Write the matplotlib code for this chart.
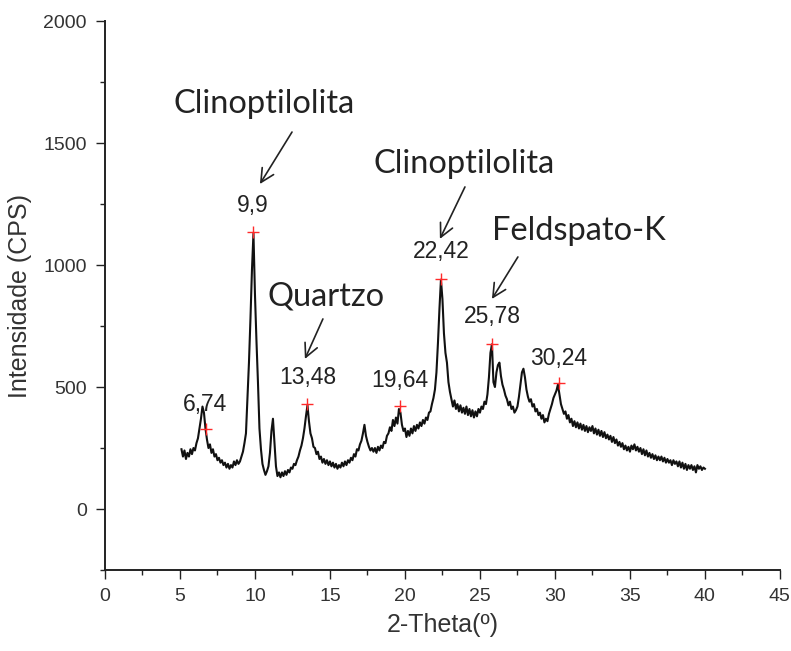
import matplotlib.pyplot as plt
import numpy as np

plt.rcParams['font.family'] = ['Liberation Sans', 'DejaVu Sans']

# 2-theta scan, one reading every 0.1 degree from 5.1 to 40.0
theta_start = 5.1
theta_step = 0.1
cps = [
    245, 215, 240, 205, 230, 215, 245, 225, 250,
    240, 270, 290, 330, 370, 420, 395, 330, 285, 250,
    265, 230, 245, 215, 225, 200, 210, 190, 200, 180,
    190, 170, 185, 165, 180, 170, 195, 180, 200, 185,
    195, 215, 235, 270, 310, 450, 600, 780, 980, 1130,
    880, 690, 520, 330, 245, 185, 160, 140, 155, 175,
    230, 320, 370, 270, 175, 135, 150, 130, 150, 135,
    155, 140, 160, 150, 170, 165, 185, 180, 200, 215,
    240, 260, 290, 330, 380, 425, 360, 310, 290, 255,
    250, 225, 235, 205, 215, 190, 205, 185, 200, 180,
    195, 175, 190, 170, 185, 165, 180, 170, 190, 175,
    195, 180, 200, 190, 210, 200, 225, 215, 245, 240,
    265, 280, 310, 345, 300, 275, 255, 240, 250, 235,
    250, 230, 255, 240, 260, 250, 275, 270, 300, 310,
    335, 320, 365, 340, 375, 350, 410, 395, 345, 320,
    330, 295, 320, 300, 330, 310, 340, 320, 345, 330,
    355, 340, 365, 350, 375, 365, 395, 400, 430, 455,
    490, 560, 680, 820, 940, 860, 720, 640, 600, 520,
    480, 450, 420, 445, 410, 430, 400, 425, 395, 415,
    390, 420, 385, 410, 380, 405, 375, 400, 380, 410,
    395, 420, 410, 440, 430, 470, 540, 640, 675, 520,
    500, 560, 590, 600, 545, 510, 490, 465, 450, 425,
    440, 410, 420, 395, 405, 420, 460, 510, 560, 575,
    540, 490, 460, 440, 450, 420, 430, 400, 410, 385,
    395, 370, 385, 355, 370, 360, 390, 410, 430, 455,
    470, 485, 510, 470, 430, 410, 390, 400, 370, 385,
    355, 370, 340, 360, 335, 355, 330, 350, 325, 345,
    320, 340, 315, 335, 320, 340, 310, 330, 305, 325,
    300, 320, 295, 315, 290, 305, 285, 300, 275, 295,
    270, 285, 260, 275, 255, 270, 245, 260, 240, 255,
    235, 260, 245, 265, 240, 255, 235, 250, 225, 245,
    220, 240, 215, 230, 210, 225, 205, 220, 200, 215,
    200, 215, 195, 210, 190, 205, 190, 200, 180, 200,
    185, 195, 175, 195, 170, 190, 165, 185, 160, 180,
    165, 180, 160, 175, 150, 180, 165, 175, 160, 170,
    165,
]
theta = theta_start + theta_step * np.arange(len(cps))

# identified peaks
peak_x = [6.74, 9.9, 13.48, 19.64, 22.42, 25.78, 30.24]
peak_y = [328, 1135, 430, 422, 943, 676, 516]
label_pos = [(6.67, 430), (9.87, 1242), (13.53, 541), (19.67, 525),
             (22.4, 1057), (25.8, 787), (30.27, 615)]

# mineral names: text position, arrow tail, arrow head
minerals = ['Clinoptilolita', 'Quartzo', 'Clinoptilolita', 'Feldspato-K']
mineral_text = [(10.6, 1660), (14.73, 869), (23.93, 1414), (31.6, 1139)]
arrow_tail = [(12.47, 1545), (14.53, 779), (24.0, 1320), (27.53, 1033)]
arrow_head = [(10.33, 1332), (13.33, 615), (22.33, 1107), (25.8, 861)]

fig = plt.figure(figsize=(7.91, 6.51), dpi=100)
ax = fig.add_axes([0.1327, 0.1244, 0.8533, 0.8433])

ax.plot(theta, cps, color='#111111', lw=1.5)
ax.plot(peak_x, peak_y, '+', color='#ff2a2a', ms=8, mew=1.0)

for px, (lx, ly) in zip(peak_x, label_pos):
    ax.text(lx, ly, f'{px:g}'.replace('.', ','), ha='center', va='center',
            fontsize=16.5, color='#222222')

for name, tp, tail, head in zip(minerals, mineral_text, arrow_tail, arrow_head):
    ax.text(tp[0], tp[1], name, ha='center', va='center', fontsize=23.5,
            family=['Lato', 'DejaVu Sans'], color='#222222')
    ax.annotate('', xy=head, xytext=tail,
                arrowprops=dict(arrowstyle='->', color='#222222', lw=1.2,
                                mutation_scale=24, shrinkA=0, shrinkB=0))

ax.set_xlim(0, 45)
ax.set_ylim(-250, 2000)
ax.set_xticks(np.arange(0, 46, 5))
ax.set_xticks(np.arange(2.5, 45, 5), minor=True)
ax.set_yticks([0, 500, 1000, 1500, 2000])
ax.set_yticks([-250, 250, 750, 1250, 1750], minor=True)

for side in ['top', 'right']:
    ax.spines[side].set_visible(False)
for side in ['left', 'bottom']:
    ax.spines[side].set_linewidth(1.4)
    ax.spines[side].set_color('#222222')

ax.tick_params(which='major', direction='out', length=6.5, width=1.0,
               labelsize=14, pad=6.5, color='#222222', labelcolor='#333333')
ax.tick_params(which='minor', direction='out', length=3.6, width=1.0,
               color='#222222')

ax.set_xlabel('2-Theta(º)', fontsize=18, color='#333333', labelpad=6)
ax.set_ylabel('Intensidade (CPS)', fontsize=18, color='#333333', labelpad=8)

fig.savefig('out.png', dpi=100)
